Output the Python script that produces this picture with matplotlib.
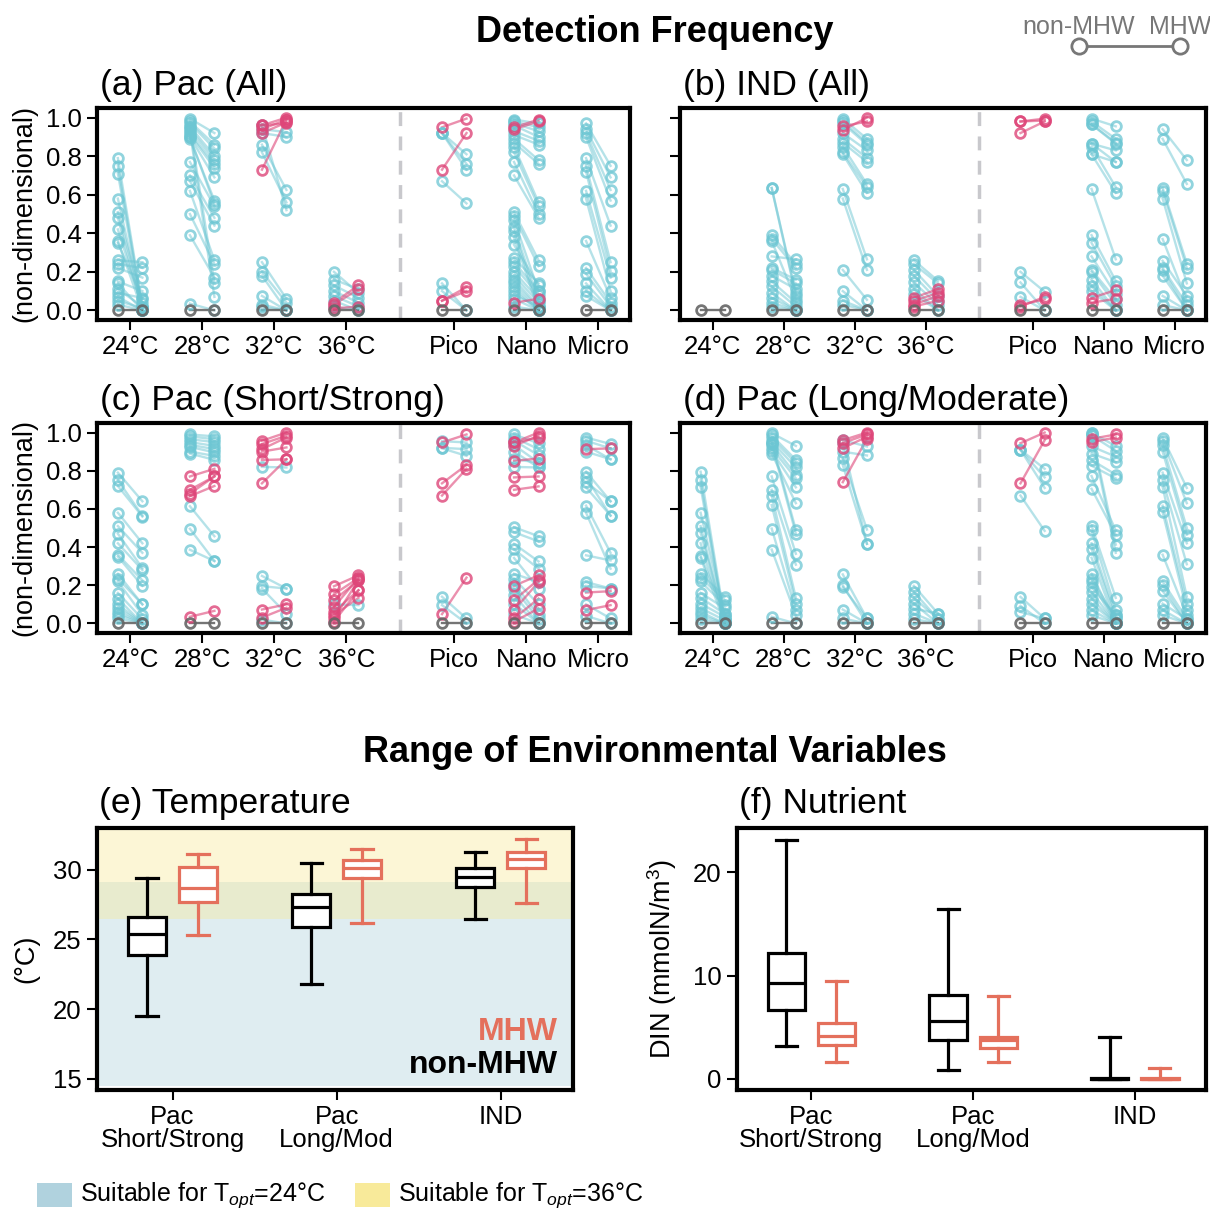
import matplotlib
matplotlib.use("Agg")
import matplotlib.pyplot as plt
from matplotlib.lines import Line2D
from matplotlib.patches import Rectangle

plt.rcParams['font.family'] = ['Liberation Sans', 'DejaVu Sans']
plt.rcParams['mathtext.fontset'] = 'custom'
plt.rcParams['mathtext.rm'] = 'Liberation Sans'
plt.rcParams['mathtext.it'] = 'Liberation Sans:italic'

# ---------------- data: detection frequency (non-MHW, MHW pairs) ----------------
cats = ['24°C', '28°C', '32°C', '36°C', 'Pico', 'Nano', 'Micro']
cat_x = [0, 1, 2, 3, 4.5, 5.5, 6.5]

# (a) Pac (All)
pac_all_non = [
    [0.79, 0.75, 0.71, 0.58, 0.51, 0.48, 0.42, 0.36, 0.35, 0.26, 0.24, 0.22, 0.15, 0.14, 0.11, 0.09, 0.07, 0.05, 0.03, 0.0],
    [0.995, 0.98, 0.97, 0.955, 0.94, 0.92, 0.91, 0.90, 0.89, 0.90, 0.77, 0.70, 0.67, 0.62, 0.50, 0.39, 0.95, 0.93, 0.035, 0.0],
    [0.96, 0.94, 0.92, 0.96, 0.73, 0.94, 0.92, 0.86, 0.82, 0.96, 0.25, 0.20, 0.18, 0.075, 0.03, 0.015, 0.0],
    [0.20, 0.16, 0.13, 0.10, 0.075, 0.05, 0.04, 0.03, 0.01, 0.02, 0.0],
    [0.95, 0.73, 0.92, 0.92, 0.92, 0.67, 0.14, 0.10, 0.05, 0.05, 0.0],
    [0.99, 0.98, 0.97, 0.96, 0.95, 0.94, 0.93, 0.91, 0.89, 0.87, 0.85, 0.82, 0.77, 0.70,
     0.51, 0.49, 0.47, 0.43, 0.41, 0.38, 0.34,
     0.27, 0.25, 0.23, 0.20, 0.18, 0.16, 0.14, 0.12, 0.10, 0.08, 0.06, 0.04, 0.02, 0.0],
    [0.97, 0.94, 0.92, 0.90, 0.79, 0.75, 0.72, 0.62, 0.58, 0.36, 0.22, 0.19, 0.14, 0.10, 0.075, 0.0],
]
pac_all_mhw = [
    [0.02, 0.01, 0.0, 0.01, 0.04, 0.0, 0.02, 0.0, 0.06, 0.25, 0.22, 0.17, 0.10, 0.0, 0.02, 0.065, 0.0, 0.01, 0.0, 0.0],
    [0.92, 0.86, 0.84, 0.80, 0.78, 0.76, 0.74, 0.69, 0.57, 0.55, 0.54, 0.48, 0.44, 0.26, 0.24, 0.17, 0.14, 0.07, 0.0, 0.0],
    [1.0, 0.99, 0.975, 0.97, 0.99, 0.925, 0.90, 0.625, 0.56, 0.52, 0.06, 0.04, 0.0, 0.0, 0.0, 0.0, 0.0],
    [0.09, 0.11, 0.065, 0.04, 0.02, 0.0, 0.13, 0.11, 0.02, 0.0, 0.0],
    [0.995, 0.92, 0.81, 0.76, 0.73, 0.555, 0.0, 0.0, 0.12, 0.10, 0.0],
    [0.97, 0.95, 0.93, 0.90, 0.99, 0.98, 0.88, 0.86, 0.78, 0.76, 0.56, 0.54, 0.50, 0.48,
     0.26, 0.23, 0.10, 0.05, 0.02, 0.0, 0.13,
     0.14, 0.10, 0.08, 0.06, 0.04, 0.02, 0.01, 0.0, 0.0, 0.02, 0.0, 0.06, 0.0, 0.0],
    [0.75, 0.69, 0.625, 0.57, 0.44, 0.25, 0.205, 0.17, 0.10, 0.066, 0.04, 0.02, 0.0, 0.0, 0.0, 0.0],
]

# (b) IND (All)
ind_all_non = [
    [0.0],
    [0.635, 0.635, 0.39, 0.37, 0.36, 0.28, 0.22, 0.21, 0.18, 0.15, 0.125, 0.09, 0.065, 0.04, 0.02, 0.0],
    [0.935, 0.955, 0.995, 0.98, 0.97, 0.92, 0.89, 0.87, 0.85, 0.82, 0.81, 0.63, 0.58, 0.21, 0.10, 0.05, 0.03, 0.0],
    [0.26, 0.24, 0.21, 0.18, 0.145, 0.11, 0.083, 0.066, 0.05, 0.03, 0.02, 0.0],
    [0.98, 0.92, 0.98, 0.20, 0.145, 0.07, 0.028, 0.02, 0.0],
    [0.995, 0.98, 0.965, 0.965, 0.865, 0.865, 0.85, 0.81, 0.81, 0.63, 0.39, 0.35, 0.28, 0.21, 0.20, 0.16, 0.125, 0.10, 0.065, 0.04, 0.0],
    [0.94, 0.89, 0.635, 0.62, 0.58, 0.37, 0.257, 0.22, 0.21, 0.18, 0.075, 0.028, 0.0],
]
ind_all_mhw = [
    [0.0],
    [0.09, 0.075, 0.24, 0.22, 0.055, 0.265, 0.16, 0.14, 0.11, 0.04, 0.02, 0.0, 0.0, 0.0, 0.0, 0.0],
    [1.0, 0.98, 0.89, 0.87, 0.86, 0.83, 0.79, 0.77, 0.655, 0.64, 0.61, 0.265, 0.21, 0.055, 0.0, 0.0, 0.0, 0.0],
    [0.153, 0.14, 0.075, 0.05, 0.028, 0.0, 0.0, 0.11, 0.09, 0.075, 0.05, 0.0],
    [0.995, 0.98, 0.985, 0.097, 0.0, 0.0, 0.057, 0.07, 0.0],
    [0.955, 0.89, 0.87, 0.865, 0.83, 0.77, 0.64, 0.61, 0.77, 0.265, 0.153, 0.125, 0.083, 0.057, 0.03, 0.0, 0.0, 0.0, 0.105, 0.06, 0.0],
    [0.78, 0.656, 0.243, 0.22, 0.14, 0.05, 0.075, 0.028, 0.0, 0.0, 0.0, 0.0, 0.0],
]

# (c) Pac (Short/Strong)
pac_ss_non = [
    [0.79, 0.75, 0.72, 0.58, 0.51, 0.47, 0.42, 0.36, 0.35, 0.26, 0.235, 0.22, 0.16, 0.13, 0.10, 0.08, 0.06, 0.045, 0.026, 0.0],
    [0.99, 0.98, 0.965, 0.95, 0.936, 0.925, 0.90, 0.89, 0.77, 0.70, 0.68, 0.667, 0.614, 0.496, 0.386, 0.035, 0.0],
    [0.957, 0.94, 0.913, 0.90, 0.856, 0.734, 0.82, 0.249, 0.195, 0.183, 0.073, 0.031, 0.02, 0.0],
    [0.195, 0.153, 0.122, 0.087, 0.061, 0.043, 0.026, 0.01, 0.10, 0.0],
    [0.948, 0.734, 0.67, 0.955, 0.92, 0.917, 0.049, 0.14, 0.096, 0.0],
    [0.99, 0.974, 0.957, 0.934, 0.90, 0.86, 0.82, 0.948, 0.93, 0.852, 0.765, 0.70, 0.948,
     0.504, 0.478, 0.417, 0.388, 0.343, 0.26, 0.235, 0.209, 0.183, 0.148, 0.104, 0.047,
     0.197, 0.122, 0.07, 0.026, 0.01, 0.0],
    [0.974, 0.957, 0.934, 0.90, 0.913, 0.795, 0.765, 0.74, 0.713, 0.617, 0.58, 0.357, 0.217, 0.197, 0.162, 0.07, 0.10, 0.04, 0.0],
]
pac_ss_mhw = [
    [0.64, 0.565, 0.56, 0.42, 0.37, 0.29, 0.28, 0.226, 0.197, 0.10, 0.10, 0.045, 0.023, 0.0, 0.0, 0.0, 0.0, 0.0, 0.0, 0.0],
    [0.98, 0.965, 0.95, 0.93, 0.913, 0.896, 0.878, 0.857, 0.81, 0.77, 0.77, 0.72, 0.457, 0.327, 0.327, 0.066, 0.0],
    [1.0, 0.983, 0.974, 0.922, 0.86, 0.86, 0.817, 0.183, 0.183, 0.05, 0.10, 0.082, 0.0, 0.0],
    [0.252, 0.238, 0.226, 0.238, 0.174, 0.134, 0.226, 0.174, 0.096, 0.0],
    [0.99, 0.83, 0.81, 0.948, 0.913, 0.878, 0.24, 0.026, 0.0, 0.0],
    [0.944, 0.913, 0.882, 0.843, 0.817, 0.843, 0.817, 1.0, 0.983, 0.864, 0.77, 0.718, 0.974,
     0.457, 0.43, 0.325, 0.287, 0.183, 0.217, 0.10, 0.043, 0.023, 0.0, 0.0, 0.0,
     0.252, 0.23, 0.217, 0.13, 0.078, 0.0],
    [0.94, 0.917, 0.86, 0.86, 0.917, 0.64, 0.565, 0.64, 0.565, 0.37, 0.287, 0.33, 0.183, 0.183, 0.169, 0.096, 0.026, 0.0, 0.0],
]

# (d) Pac (Long/Moderate)
pac_lm_non = [
    [0.795, 0.75, 0.715, 0.58, 0.51, 0.475, 0.42, 0.355, 0.345, 0.26, 0.24, 0.22, 0.16, 0.135, 0.104, 0.08, 0.06, 0.043, 0.023, 0.0],
    [0.997, 0.985, 0.97, 0.953, 0.94, 0.918, 0.903, 0.89, 0.953, 0.94, 0.77, 0.70, 0.67, 0.62, 0.497, 0.387, 0.035, 0.0],
    [0.96, 0.945, 0.918, 0.74, 0.96, 0.90, 0.866, 0.83, 0.945, 0.257, 0.2, 0.19, 0.073, 0.026, 0.0],
    [0.197, 0.165, 0.134, 0.104, 0.078, 0.052, 0.023, 0.0],
    [0.944, 0.734, 0.91, 0.91, 0.91, 0.67, 0.139, 0.092, 0.06, 0.0],
    [0.967, 0.95, 0.997, 0.985, 0.927, 0.89, 0.856, 0.826, 0.772, 0.705, 0.997, 0.985, 0.513, 0.487,
     0.42, 0.39, 0.344, 0.26, 0.235, 0.217, 0.19, 0.165, 0.13, 0.104, 0.07, 0.043, 0.0],
    [0.974, 0.957, 0.934, 0.9, 0.79, 0.75, 0.715, 0.617, 0.583, 0.36, 0.22, 0.2, 0.17, 0.104, 0.07, 0.043, 0.0],
]
pac_lm_mhw = [
    [0.017, 0.0, 0.0, 0.035, 0.0, 0.017, 0.0, 0.05, 0.0, 0.14, 0.122, 0.096, 0.08, 0.05, 0.035, 0.017, 0.0, 0.0, 0.0, 0.0],
    [0.93, 0.857, 0.84, 0.817, 0.78, 0.76, 0.713, 0.63, 0.49, 0.47, 0.365, 0.308, 0.134, 0.104, 0.07, 0.043, 0.0, 0.0],
    [1.0, 0.99, 0.978, 0.967, 0.927, 0.88, 0.492, 0.417, 0.417, 0.026, 0.0, 0.026, 0.0, 0.0, 0.0],
    [0.052, 0.023, 0.023, 0.0, 0.052, 0.0, 0.0, 0.0],
    [1.0, 0.96, 0.81, 0.765, 0.71, 0.485, 0.026, 0.0, 0.026, 0.0],
    [0.99, 0.974, 0.93, 0.904, 0.874, 0.845, 0.78, 0.76, 0.487, 0.465, 0.413, 0.37, 0.134, 0.07,
     0.043, 0.026, 0.0, 0.0, 0.026, 0.0, 0.043, 0.0, 0.0, 0.0, 0.0, 0.0, 0.0],
    [0.71, 0.63, 0.5, 0.465, 0.42, 0.31, 0.14, 0.104, 0.07, 0.043, 0.023, 0.0, 0.0, 0.023, 0.0, 0.0, 0.0],
]

# ---------------- data: environmental ranges (whislo, q1, med, q3, whishi) ----------------
regions = ['Pac\nShort/Strong', 'Pac\nLong/Mod', 'IND']
temp_non = [[19.5, 23.9, 25.4, 26.6, 29.4], [21.8, 25.9, 27.3, 28.3, 30.5], [26.5, 28.8, 29.5, 30.1, 31.3]]
temp_mhw = [[25.3, 27.7, 28.7, 30.2, 31.1], [26.2, 29.4, 30.1, 30.7, 31.5], [27.6, 30.1, 30.8, 31.3, 32.2]]
din_non = [[3.2, 6.7, 9.3, 12.2, 23.1], [0.8, 3.7, 5.6, 8.1, 16.4], [0.0, 0.0, 0.0, 0.05, 4.0]]
din_mhw = [[1.6, 3.3, 4.15, 5.4, 9.5], [1.6, 3.0, 3.7, 4.0, 8.0], [0.0, 0.0, 0.0, 0.07, 1.05]]

# suitable temperature ranges
topt24_range = (14.5, 29.1)
topt36_range = (26.5, 33.5)

CYAN = '#6cc6d3'
PINK = '#de4679'
GRAY = '#666666'
SALMON = '#e4705c'
BLUE_BG = '#b0d2de'
YEL_BG = '#f8ea9a'
TS = 18.5  # tick label size
TITLE = 25.5


def style_frame(ax):
    for s in ax.spines.values():
        s.set_linewidth(3)
    ax.tick_params(direction='out', length=7, width=1.5, labelsize=TS, pad=4)


def dot_panel(ax, non_lists, mhw_lists, title, show_ylabels):
    dx = 0.17
    groups = {'c': [], 'p': [], 'g': []}
    for x, non, mhw in zip(cat_x, non_lists, mhw_lists):
        for a, b in zip(non, mhw):
            if a == 0 and b == 0:
                groups['g'].append((x, a, b))
            elif b > a:
                groups['p'].append((x, a, b))
            else:
                groups['c'].append((x, a, b))
    for key, col, la, ma in [('c', CYAN, 0.5, 0.75), ('p', PINK, 0.6, 0.8), ('g', GRAY, 0.9, 0.9)]:
        for x, a, b in groups[key]:
            ax.plot([x - dx, x + dx], [a, b], color=col, lw=1.7, alpha=la, zorder=2)
            ax.plot([x - dx, x + dx], [a, b], ls='none', marker='o', ms=7, mfc='none',
                    mec=col, mew=2.0, alpha=ma, zorder=3)
    ax.axvline(3.75, color='#c8c8cc', lw=2.5, ls=(0, (4, 3)), zorder=1)
    ax.set_xlim(-0.46, 6.94)
    ax.set_ylim(-0.05, 1.05)
    ax.set_xticks(cat_x)
    ax.set_xticklabels(cats)
    ax.set_yticks([0, 0.2, 0.4, 0.6, 0.8, 1.0])
    if show_ylabels:
        ax.set_yticklabels(['0.0', '0.2', '0.4', '0.6', '0.8', '1.0'])
        ax.set_ylabel('(non-dimensional)', fontsize=19.5, labelpad=6)
    else:
        ax.set_yticklabels([])
    style_frame(ax)
    ax.text(0.005, 1.03, title, transform=ax.transAxes, ha='left', va='bottom', fontsize=TITLE)


def box_panel(ax, non_stats, mhw_stats):
    d = 0.155
    for stats, col, off in [(non_stats, 'black', -d), (mhw_stats, SALMON, d)]:
        bs = [dict(whislo=s[0], q1=s[1], med=s[2], q3=s[3], whishi=s[4], fliers=[]) for s in stats]
        pos = [i + off for i in range(len(stats))]
        ax.bxp(bs, positions=pos, widths=0.23, capwidths=0.13, showfliers=False, patch_artist=True,
               boxprops=dict(facecolor='white', edgecolor=col, lw=2.3),
               whiskerprops=dict(color=col, lw=2.3), capprops=dict(color=col, lw=2.3),
               medianprops=dict(color=col, lw=2.3), manage_ticks=False)
    ax.set_xticks(range(len(regions)))
    ax.set_xticklabels(regions, linespacing=0.95)
    ax.set_xlim(-0.46, 2.44)
    style_frame(ax)


fig = plt.figure(figsize=(12.1, 12.1), dpi=100)

W = 1210.0
def rect(l, t, r, b):
    return [l / W, 1 - b / W, (r - l) / W, (b - t) / W]

ax_a = fig.add_axes(rect(97, 108, 630, 320))
ax_b = fig.add_axes(rect(680, 108, 1206, 320))
ax_c = fig.add_axes(rect(97, 423, 630, 633))
ax_d = fig.add_axes(rect(680, 423, 1206, 633))
ax_e = fig.add_axes(rect(97, 828, 573, 1090))
ax_f = fig.add_axes(rect(737, 828, 1206, 1090))

dot_panel(ax_a, pac_all_non, pac_all_mhw, '(a) Pac (All)', True)
dot_panel(ax_b, ind_all_non, ind_all_mhw, '(b) IND (All)', False)
dot_panel(ax_c, pac_ss_non, pac_ss_mhw, '(c) Pac (Short/Strong)', True)
dot_panel(ax_d, pac_lm_non, pac_lm_mhw, '(d) Pac (Long/Moderate)', False)

# (e) temperature
ax_e.axhspan(*topt24_range, color=BLUE_BG, alpha=0.4, lw=0, zorder=0)
ax_e.axhspan(*topt36_range, color=YEL_BG, alpha=0.4, lw=0, zorder=0)
box_panel(ax_e, temp_non, temp_mhw)
ax_e.set_ylim(14.2, 33)
ax_e.set_yticks([15, 20, 25, 30])
ax_e.set_ylabel('(°C)', fontsize=19.5, labelpad=10)
ax_e.text(0.968, 0.22, 'MHW', transform=ax_e.transAxes, ha='right', va='center',
          fontsize=23, fontweight='bold', color=SALMON)
ax_e.text(0.968, 0.095, 'non-MHW', transform=ax_e.transAxes, ha='right', va='center',
          fontsize=23, fontweight='bold', color='black')
ax_e.text(0.005, 1.03, '(e) Temperature', transform=ax_e.transAxes, ha='left', va='bottom', fontsize=TITLE)

# (f) nutrient
box_panel(ax_f, din_non, din_mhw)
ax_f.set_ylim(-1.1, 24.3)
ax_f.set_yticks([0, 10, 20])
ax_f.set_ylabel('DIN (mmolN/m$^3$)', fontsize=19.5, labelpad=10)
ax_f.text(0.005, 1.03, '(f) Nutrient', transform=ax_f.transAxes, ha='left', va='bottom', fontsize=TITLE)

# section titles
fig.text(655 / W, 1 - 32 / W, 'Detection Frequency', ha='center', va='center', fontsize=26, fontweight='bold')
fig.text(655 / W, 1 - 752 / W, 'Range of Environmental Variables', ha='center', va='center',
         fontsize=26, fontweight='bold')

# top-right key
fig.text(1079 / W, 1 - 27 / W, 'non-MHW', ha='center', va='center', fontsize=18, color='#777777')
fig.text(1180 / W, 1 - 27 / W, 'MHW', ha='center', va='center', fontsize=18, color='#777777')
fig.add_artist(Line2D([1079 / W, 1180 / W], [1 - 46 / W, 1 - 46 / W], transform=fig.transFigure,
                      color='#777777', lw=2, marker='o', ms=11, mfc='white', mec='#777777', mew=2))

# bottom legend
fig.add_artist(Rectangle((37 / W, 1 - 1207 / W), 35 / W, 24 / W, transform=fig.transFigure,
                         facecolor=BLUE_BG, edgecolor='none'))
fig.text(80 / W, 1 - 1195 / W, 'Suitable for T$_{opt}$=24°C', ha='left', va='center', fontsize=18)
fig.add_artist(Rectangle((355 / W, 1 - 1207 / W), 35 / W, 24 / W, transform=fig.transFigure,
                         facecolor=YEL_BG, edgecolor='none'))
fig.text(398 / W, 1 - 1195 / W, 'Suitable for T$_{opt}$=36°C', ha='left', va='center', fontsize=18)

fig.savefig('out.png', dpi=100)
